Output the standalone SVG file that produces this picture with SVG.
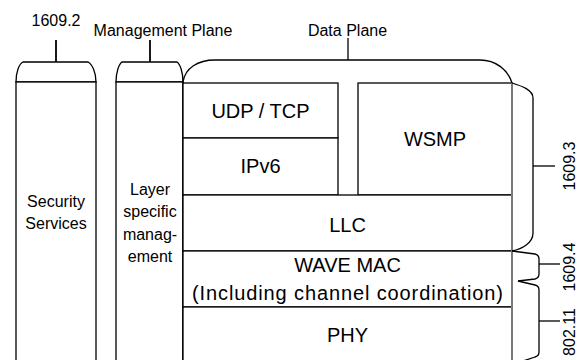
<svg xmlns="http://www.w3.org/2000/svg" width="580" height="360" viewBox="0 0 580 360">
  <defs>
    <style>
      .ln { fill: none; stroke: #000; stroke-width: 1.3; }
      .box { fill: #fff; stroke: #000; stroke-width: 1.3; }
      .edge { fill: none; stroke: #7a7a7a; stroke-width: 2; }
      .stem { fill: none; stroke: #000; stroke-width: 1.8; }
      .sm { font-family: "Liberation Sans", Arial, sans-serif; font-size: 16px; fill: #000; text-anchor: middle; }
      .lg { font-family: "Liberation Sans", Arial, sans-serif; font-size: 20px; fill: #000; text-anchor: middle; }
      .rot { font-family: "Liberation Sans", Arial, sans-serif; font-size: 16px; fill: #000; text-anchor: middle; }
    </style>
  </defs>
  <rect width="580" height="360" fill="#fff"/>

  <!-- 1609.2 security column -->
  <g id="security">
    <path class="box" d="M16,82 C16,72 19,64 23,62 L88,62 C92,64 96,72 96,82 Z"/>
    <rect class="box" x="16" y="82" width="80" height="290"/>
    <text class="sm" x="56" y="207">Security</text>
    <text class="sm" x="56" y="229">Services</text>
  </g>

  <!-- management plane column -->
  <g id="management">
    <path class="box" d="M116,82 C116,72 119,64 122,62 L177,62 C180,64 183,72 183,82 Z"/>
    <rect class="box" x="116" y="82" width="67" height="290"/>
    <text class="sm" x="150" y="195">Layer</text>
    <text class="sm" x="150" y="217">specific</text>
    <text class="sm" x="150" y="240">manag-</text>
    <text class="sm" x="150" y="262">ement</text>
  </g>

  <!-- data plane outline -->
  <g id="data-plane">
    <path class="ln" d="M183,82 C185,68 198,60 215,60 L480,60 C496,60 508,70 512,83"/>
    <line class="ln" x1="183" y1="82" x2="183" y2="360"/>
  </g>

  <g id="udp-tcp">
    <rect class="box" x="183" y="83" width="155" height="55"/>
    <text class="lg" x="260.5" y="118">UDP / TCP</text>
  </g>
  <g id="ipv6">
    <rect class="box" x="183" y="138" width="155" height="57"/>
    <text class="lg" x="260.5" y="173">IPv6</text>
  </g>
  <g id="wsmp">
    <rect class="box" x="358" y="83" width="154" height="112"/>
    <text class="lg" x="435" y="146">WSMP</text>
  </g>
  <g id="llc">
    <rect class="box" x="183" y="195" width="329" height="56"/>
    <text class="lg" x="347.5" y="232">LLC</text>
  </g>
  <g id="wave-mac">
    <rect class="box" x="183" y="251" width="329" height="56"/>
    <text class="lg" x="347.5" y="272">WAVE MAC</text>
    <text class="lg" x="347.5" y="300" textLength="311" lengthAdjust="spacing">(Including channel coordination)</text>
  </g>
  <g id="phy">
    <rect class="box" x="183" y="307" width="329" height="65"/>
    <text class="lg" x="347.5" y="342">PHY</text>
  </g>

  <!-- right edge of the data plane stack -->
  <line class="edge" x1="512" y1="83" x2="512" y2="360"/>

  <!-- stems and braces -->
  <g id="connectors">
    <line class="stem" x1="56" y1="40" x2="56" y2="62"/>
    <line class="stem" x1="150" y1="40" x2="150" y2="62"/>
    <line class="ln" x1="348" y1="38" x2="348" y2="60"/>

    <path class="ln" d="M512,83 C522,86 533,90 533,98 L533,233 C533,243 522,249 512,251"/>
    <line class="ln" x1="533" y1="166" x2="555" y2="166"/>

    <path class="ln" d="M512,251 L535,254 Q539,255 539,259 L539,274 Q539,278 535,279 L518,281"/>
    <line class="ln" x1="539" y1="264" x2="560" y2="264"/>

    <path class="ln" d="M518,281 L535,285 Q539,286 539,290 L539,352 Q539,356 535,357 L520,362"/>
    <line class="ln" x1="539" y1="321" x2="560" y2="321"/>
  </g>

  <!-- labels -->
  <text class="sm" x="56" y="26">1609.2</text>
  <text class="sm" x="163" y="36">Management Plane</text>
  <text class="sm" x="347.5" y="36">Data Plane</text>
  <text class="rot" transform="translate(575,166) rotate(-90)">1609.3</text>
  <text class="rot" transform="translate(575,267) rotate(-90)">1609.4</text>
  <text class="rot" transform="translate(575,332) rotate(-90)">802.11</text>
</svg>
